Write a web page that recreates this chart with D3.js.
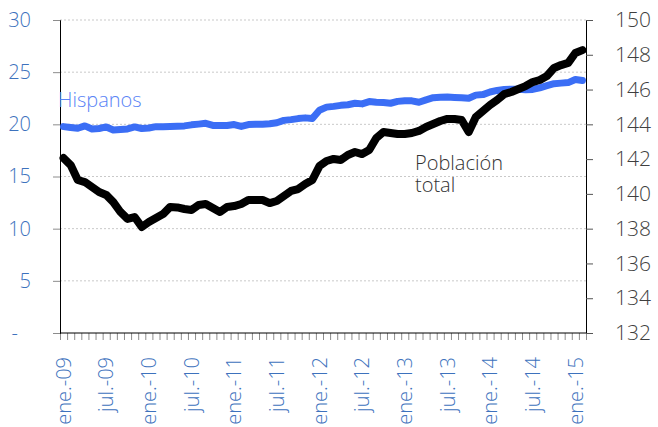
<!DOCTYPE html>
<html>
<head>
<meta charset="utf-8">
<script src="https://cdn.jsdelivr.net/npm/d3@7"></script>
<style>
  body { margin: 0; background: #fff; }
  text { font-family: "Open Sans", sans-serif; font-weight: 300; }
</style>
</head>
<body>
<div id="chart"></div>
<script>
var svgWidth = 658;
var svgHeight = 427;

var margin = { top: 20, right: 72, bottom: 94, left: 60 };
var width = svgWidth - margin.left - margin.right;
var height = svgHeight - margin.top - margin.bottom;

// months ene-09 .. feb-15
var monthNames = ["ene.", "feb.", "mar.", "abr.", "may.", "jun.", "jul.", "ago.", "sep.", "oct.", "nov.", "dic."];
var years = ["09", "10", "11", "12", "13", "14", "15"];
var months = [];
years.forEach(function(y) {
  monthNames.forEach(function(m) { months.push(m + "-" + y); });
});
months = months.slice(0, 74);

// Hispanos (millones, eje izquierdo)
var hispanos = [
  19.78, 19.70, 19.62, 19.85, 19.55, 19.60, 19.75, 19.45, 19.50, 19.56, 19.75, 19.60,
  19.65, 19.78, 19.78, 19.80, 19.82, 19.85, 19.95, 20.02, 20.10, 19.90, 19.88, 19.88,
  19.98, 19.80, 19.98, 20.00, 20.00, 20.05, 20.15, 20.38, 20.45, 20.55, 20.62, 20.55,
  21.35, 21.65, 21.72, 21.82, 21.88, 22.02, 21.96, 22.18, 22.12, 22.10, 22.02, 22.20,
  22.25, 22.25, 22.12, 22.35, 22.55, 22.60, 22.62, 22.58, 22.55, 22.50, 22.80, 22.85,
  23.10, 23.25, 23.35, 23.36, 23.36, 23.32, 23.35, 23.50, 23.70, 23.90, 23.95, 24.00,
  24.30, 24.20
];

// Poblacion total (millones, eje derecho)
var total = [
  142.06, 141.66, 140.80, 140.68, 140.40, 140.11, 139.94, 139.53, 138.96, 138.56, 138.67, 138.10,
  138.38, 138.61, 138.84, 139.25, 139.22, 139.13, 139.07, 139.36, 139.42, 139.19, 138.96, 139.25,
  139.30, 139.42, 139.65, 139.65, 139.65, 139.47, 139.59, 139.88, 140.17, 140.28, 140.57, 140.80,
  141.60, 141.89, 142.01, 141.95, 142.24, 142.41, 142.29, 142.52, 143.21, 143.56, 143.50, 143.44,
  143.44, 143.50, 143.62, 143.85, 144.02, 144.19, 144.31, 144.31, 144.25, 143.56, 144.42, 144.77,
  145.11, 145.40, 145.74, 145.86, 146.03, 146.20, 146.43, 146.55, 146.78, 147.24, 147.41, 147.53,
  148.10, 148.27
];

var leftTicks = [0, 5, 10, 15, 20, 25, 30];
var rightTicks = [132, 134, 136, 138, 140, 142, 144, 146, 148, 150];

var svg = d3.select("#chart")
  .append("svg")
  .attr("width", svgWidth)
  .attr("height", svgHeight);

var chartGroup = svg.append("g")
  .attr("transform", `translate(${margin.left}, ${margin.top})`);

// scales
var xBand = d3.scaleBand().domain(months).range([0, width]).padding(0);
var xLin = d3.scaleLinear().domain([0, months.length]).range([0, width]);
var yLeft = d3.scaleLinear().domain([0, 30]).range([height, 0]);
var yRight = d3.scaleLinear().domain([132, 150]).range([height, 0]);

// gridlines
chartGroup.append("g")
  .selectAll("line")
  .data(leftTicks.filter(d => d > 0))
  .enter()
  .append("line")
  .attr("x1", 0)
  .attr("x2", width)
  .attr("y1", d => yLeft(d))
  .attr("y2", d => yLeft(d))
  .attr("stroke", "#c9c9c9")
  .attr("stroke-width", 1)
  .attr("stroke-dasharray", "2,2");

// x ticks between categories
var xTicks = chartGroup.append("g")
  .attr("transform", `translate(0, ${height})`)
  .call(d3.axisBottom(xLin).tickValues(d3.range(months.length + 1)).tickSize(7).tickFormat(""));
xTicks.select(".domain").remove();
xTicks.selectAll("line").attr("stroke", "#8c8c8c");

// x labels every 6 months
var xLabels = chartGroup.append("g")
  .attr("transform", `translate(0, ${height})`)
  .call(d3.axisBottom(xBand).tickValues(months.filter((d, i) => i % 6 === 0)).tickSize(0).tickPadding(0));
xLabels.select(".domain").remove();
xLabels.selectAll("text")
  .attr("transform", "rotate(-90)")
  .attr("x", -24)
  .attr("y", 0)
  .attr("dy", "0.36em")
  .style("text-anchor", "end")
  .attr("fill", "#3d72bd")
  .attr("font-size", "20px")
  .attr("font-family", "'Open Sans', sans-serif")
  .attr("font-weight", 300);

// left axis
var leftAxis = chartGroup.append("g")
  .call(d3.axisLeft(yLeft).tickValues(leftTicks).tickSize(7).tickPadding(22)
    .tickFormat(d => d === 0 ? "-" : d));
leftAxis.select(".domain").attr("stroke", "#000");
leftAxis.selectAll("line").attr("stroke", "#8c8c8c");
leftAxis.selectAll("text")
  .attr("fill", "#3d72bd")
  .attr("font-size", "20px")
  .attr("font-family", "'Open Sans', sans-serif")
  .attr("font-weight", 300)
  .filter(d => d === 0)
  .attr("x", -42);

// right axis
var rightAxis = chartGroup.append("g")
  .attr("transform", `translate(${width}, 0)`)
  .call(d3.axisRight(yRight).tickValues(rightTicks).tickSize(7).tickPadding(22));
rightAxis.select(".domain").attr("stroke", "#000");
rightAxis.selectAll("line").attr("stroke", "#555");
rightAxis.selectAll("text")
  .attr("fill", "#3f3f3f")
  .attr("font-size", "21px")
  .attr("font-family", "'Open Sans', sans-serif")
  .attr("font-weight", 300);

// bottom axis line
chartGroup.append("line")
  .attr("x1", 0).attr("x2", width)
  .attr("y1", height).attr("y2", height)
  .attr("stroke", "#000");

// lines
var xPos = (d, i) => xBand(months[i]) + xBand.bandwidth() / 2;

var hispLine = d3.line().x(xPos).y(d => yLeft(d)).curve(d3.curveLinear);
var totalLine = d3.line().x(xPos).y(d => yRight(d)).curve(d3.curveLinear);

chartGroup.append("path")
  .datum(hispanos)
  .attr("d", hispLine)
  .attr("fill", "none")
  .attr("stroke", "#3b6ef5")
  .attr("stroke-width", 7)
  .attr("stroke-linejoin", "round")
  .attr("stroke-linecap", "round");

chartGroup.append("path")
  .datum(total)
  .attr("d", totalLine)
  .attr("fill", "none")
  .attr("stroke", "#000")
  .attr("stroke-width", 8)
  .attr("stroke-linejoin", "round")
  .attr("stroke-linecap", "round");

// series labels
svg.append("text")
  .attr("x", 58)
  .attr("y", 107)
  .attr("fill", "#5a84f6")
  .attr("font-size", "20px")
  .text("Hispanos");

var popLabel = svg.append("text")
  .attr("x", 415)
  .attr("y", 170)
  .attr("fill", "#333")
  .attr("font-size", "20px");
popLabel.append("tspan").attr("x", 415).text("Población");
popLabel.append("tspan").attr("x", 415).attr("dy", 22).text("total");
</script>
</body>
</html>
